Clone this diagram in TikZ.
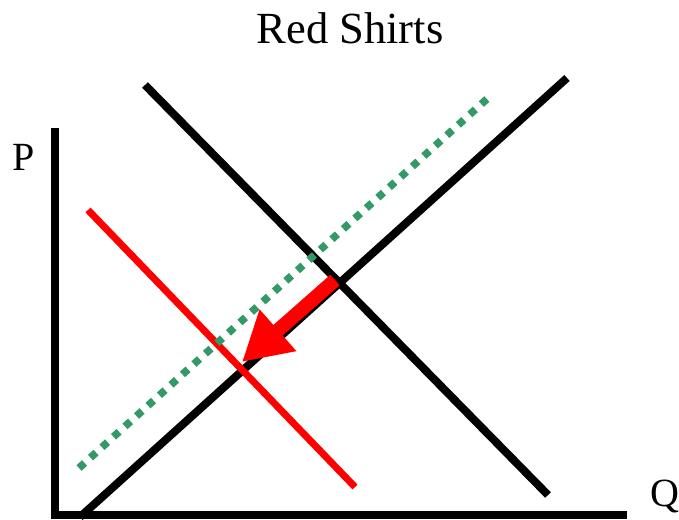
\documentclass[tikz,border=0pt]{standalone}
\usepackage{fontspec}
\setmainfont{Liberation Serif}
\usetikzlibrary{arrows.meta}
\definecolor{dotgreen}{RGB}{51,153,102}
\begin{document}
\begin{tikzpicture}[x=1pt,y=-1pt,
  axis/.style={line width=8pt},
  curveblack/.style={line width=8pt},
  curvered/.style={line width=7pt,red},
  dotline/.style={line width=7.5pt,dotgreen,dash pattern=on 7.5pt off 8pt},
  shiftarrow/.style={line width=14pt,red,-{Triangle[length=48pt,width=52pt]}},
  lbl/.style={font=\fontsize{40}{44}\selectfont,inner sep=0pt},
  titlelbl/.style={font=\fontsize{44.5}{48}\selectfont,inner sep=0pt}]
\useasboundingbox (0,0) rectangle (679,519);
% axes
\coordinate (ytop) at (55,128);
\coordinate (origin) at (55,515);
\coordinate (xend) at (627,515);
\draw[axis] (ytop) -- (55,519);
\draw[axis] (51,515) -- (xend);
% supply and demand
\coordinate (s1) at (80,517);
\coordinate (s2) at (567,78);
\draw[curveblack] (s1) -- (s2);
\coordinate (d1) at (145,85);
\coordinate (d2) at (548,495);
\draw[curveblack] (d1) -- (d2);
% new demand
\coordinate (r1) at (88,210);
\coordinate (r2) at (355,487);
\draw[curvered] (r1) -- (r2);
% dotted line
\coordinate (g1) at (79,468);
\coordinate (g2) at (488,98);
\draw[dotline] (g1) -- (g2);
% arrow
\coordinate (a1) at (335,280);
\coordinate (a2) at (242,362);
\draw[shiftarrow] (a1) -- (a2);
% labels
\node[titlelbl] (title) at (350,28) {Red Shirts};
\node[lbl] (P) at (24,157) {P};
\node[lbl] (Q) at (665,496) {Q};
\end{tikzpicture}
\end{document}
